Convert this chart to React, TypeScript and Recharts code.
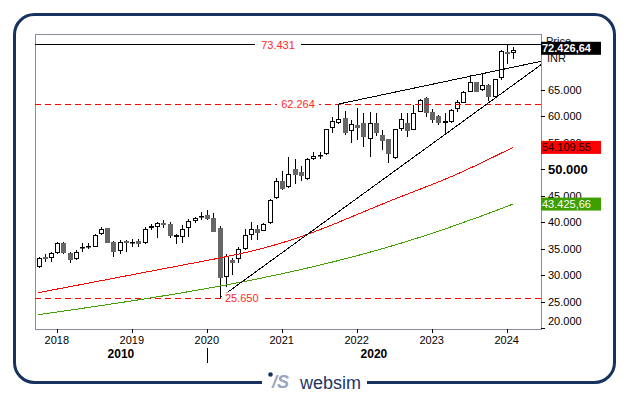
import React from "react";
import {
  ComposedChart,
  Bar,
  Line,
  XAxis,
  YAxis,
  ReferenceLine,
  ReferenceDot,
  ReferenceArea,
} from "recharts";

const FONT = "'Liberation Sans', Arial, Helvetica, sans-serif";

// Monthly candles, Oct 2017 .. Feb 2024
const months = [
  "2017-10", "2017-11", "2017-12",
  "2018-01", "2018-02", "2018-03", "2018-04", "2018-05", "2018-06", "2018-07", "2018-08", "2018-09", "2018-10", "2018-11", "2018-12",
  "2019-01", "2019-02", "2019-03", "2019-04", "2019-05", "2019-06", "2019-07", "2019-08", "2019-09", "2019-10", "2019-11", "2019-12",
  "2020-01", "2020-02", "2020-03", "2020-04", "2020-05", "2020-06", "2020-07", "2020-08", "2020-09", "2020-10", "2020-11", "2020-12",
  "2021-01", "2021-02", "2021-03", "2021-04", "2021-05", "2021-06", "2021-07", "2021-08", "2021-09", "2021-10", "2021-11", "2021-12",
  "2022-01", "2022-02", "2022-03", "2022-04", "2022-05", "2022-06", "2022-07", "2022-08", "2022-09", "2022-10", "2022-11", "2022-12",
  "2023-01", "2023-02", "2023-03", "2023-04", "2023-05", "2023-06", "2023-07", "2023-08", "2023-09", "2023-10", "2023-11", "2023-12",
  "2024-01", "2024-02",
];

const opens = [
  31500, 33380, 33190, 34140, 36020, 34250, 33000, 35250, 35400, 35380, 37720, 38910, 36320, 34630, 36510,
  36100, 36510, 36020, 38950, 39150, 39790, 39660, 37300, 37150, 38850, 40170, 41000, 41360, 40740, 38970,
  29610, 32870, 33000, 35000, 37530, 38720, 38400, 39790, 44510, 47770, 46580, 49980, 49500, 48150, 52000,
  52600, 52870, 57710, 58770, 59710, 57260, 58330, 58770, 55640, 58770, 56450, 55640, 52050, 57520, 58770,
  57400, 60840, 63370, 60840, 60030, 58800, 58960, 61300, 62540, 64610, 66390, 64940, 65880, 63670, 67140,
  72160, 71860,
];
const highs = [
  33400, 33950, 34330, 36320, 36200, 34440, 34750, 36020, 36000, 37780, 39150, 39000, 36400, 36600, 36700,
  36780, 36800, 39100, 39610, 40100, 40420, 40100, 37780, 39470, 40610, 41040, 41980, 42300, 41680, 39200,
  34000, 33190, 35380, 38660, 40100, 39470, 39790, 44300, 48280, 49700, 52360, 51870, 50600, 52100, 53260,
  53300, 57600, 59790, 62264, 60970, 59290, 61480, 60520, 60730, 60660, 57300, 55700, 57600, 60520, 60520,
  62100, 63180, 63560, 61400, 60200, 60650, 61300, 63050, 64700, 67760, 66500, 68200, 66000, 67000, 72480,
  73431, 73100,
];
const lows = [
  31300, 32550, 32550, 34100, 34000, 32250, 32900, 34440, 35000, 35300, 37600, 36000, 33380, 34000, 34440,
  35380, 35380, 35900, 38530, 36970, 39000, 36970, 35890, 36020, 37260, 39900, 40420, 40500, 38100, 25650,
  27840, 30040, 32250, 34800, 36650, 36650, 38300, 39700, 44400, 46100, 46400, 47210, 47800, 47900, 51700,
  51900, 52700, 56880, 58450, 56450, 54880, 55500, 54240, 52240, 56260, 53620, 51110, 51900, 57200, 56070,
  57300, 60700, 59900, 58650, 58330, 56640, 58800, 60840, 62400, 64500, 64500, 64800, 62920, 63500, 66900,
  69840, 70700,
];
const closes = [
  33200, 33120, 34140, 36020, 34140, 32870, 34440, 35400, 35500, 37590, 38660, 36140, 34440, 36320, 36020,
  36300, 35890, 38660, 39200, 39910, 39420, 37400, 37500, 38660, 40170, 40740, 41200, 40610, 38210, 29420,
  33630, 32360, 34890, 37590, 38660, 38020, 39610, 44190, 47770, 46210, 49040, 48900, 48700, 51920, 52500,
  52700, 57520, 59090, 59410, 56880, 58470, 57830, 56020, 58660, 56880, 55370, 52870, 57520, 59410, 57260,
  60650, 63050, 60650, 59280, 58660, 59000, 61160, 62620, 64610, 66390, 64610, 65880, 63670, 66950, 72290,
  71670, 72426.64,
];

// moving averages (red, green)
const maRed = [
  26700, 26930, 27150, 27380, 27600, 27830, 28050, 28280, 28500, 28730, 28960, 29180, 29410, 29630, 29860,
  30080, 30310, 30530, 30760, 30980, 31210, 31430, 31660, 31880, 32110, 32330, 32560, 32780, 33010, 33230,
  33480, 33720, 33970, 34230, 34505, 34795, 35100, 35420, 35755, 36105, 36470, 36855, 37255, 37670, 38100,
  38545, 39005, 39475, 39955, 40440, 40930, 41420, 41910, 42400, 42890, 43375, 43855, 44330, 44790, 45250,
  45710, 46170, 46630, 47090, 47560, 48040, 48530, 49040, 49570, 50115, 50670, 51230, 51795, 52365, 52940,
  53520, 54109.55,
];
const maGreen = [
  22550, 22720, 22890, 23060, 23231, 23402, 23574, 23746, 23920, 24094, 24269, 24445, 24622, 24801, 24981,
  25162, 25346, 25531, 25718, 25907, 26098, 26291, 26487, 26685, 26886, 27089, 27295, 27504, 27716, 27931,
  28150, 28371, 28596, 28825, 29057, 29293, 29533, 29777, 30025, 30277, 30534, 30795, 31061, 31331, 31606,
  31886, 32171, 32461, 32756, 33056, 33362, 33674, 33991, 34314, 34643, 34978, 35319, 35666, 36020, 36380,
  36746, 37119, 37499, 37886, 38280, 38680, 39089, 39504, 39927, 40350, 40750, 41180, 41620, 42060, 42510,
  42960, 43425.66,
];

const xDomain = [-0.5, 80.5];
const yDomain = [19860, 75500];
const xTicks = [3, 15, 27, 39, 51, 63, 75];
const xTickLabels = ["2018", "2019", "2020", "2021", "2022", "2023", "2024"];
const decadeTicks = [13.25, 27, 53.75];
const decadeLabels = ["2010", "|", "2020"];
const yTicks = [20000, 25000, 30000, 35000, 40000, 45000, 50000, 55000, 60000, 65000];

const levels = [
  { value: 73431, text: "73.431", at: 38.4, w: 46, color: "#000000", dash: undefined as string | undefined },
  { value: 62264, text: "62.264", at: 41.6, w: 42, color: "#ff0000", dash: "6 4" },
  { value: 25650, text: "25.650", at: 32.6, w: 40, color: "#ff0000", dash: "6 4" },
];

const trendLines = [
  { x1: 29, y1: 25650, x2: 80.5, y2: 69700 },
  { x1: 48, y1: 62264, x2: 80.5, y2: 70350 },
];

const valueBoxes = [
  { value: 43425.66, text: "43.425,66", bg: "#3f9f00", fg: "#ffffff", bold: false, shift: 0 },
  { value: 54109.55, text: "54.109,55", bg: "#ff0000", fg: "#1a0000", bold: false, shift: 0 },
  { value: 72426.64, text: "72.426,64", bg: "#000000", fg: "#ffffff", bold: true, shift: -2 },
];

const data = months.map((m, i) => ({
  i,
  m,
  o: opens[i],
  h: highs[i],
  l: lows[i],
  c: closes[i],
  range: [lows[i], highs[i]],
  ma1: maRed[i],
  ma2: maGreen[i],
}));

const fmtThousand = (v: number) => `${Math.round(v / 1000)}.000`;

const Candle = (props: any) => {
  const { x, y, width, height, payload } = props;
  if (x == null || y == null || !payload) return null;
  const { o, h, l, c } = payload;
  const top = Math.min(y, y + height);
  const hh = Math.abs(height);
  const ratio = h - l > 0 ? hh / (h - l) : 0;
  const yOf = (v: number) => top + (h - v) * ratio;
  const cx = Math.round(x + width / 2);
  const up = c >= o;
  const bTop = Math.round(yOf(Math.max(o, c)));
  let bBot = Math.round(yOf(Math.min(o, c)));
  if (bBot - bTop < 1) bBot = bTop + 1;
  return (
    <g>
      <line x1={cx + 0.5} x2={cx + 0.5} y1={Math.round(top)} y2={Math.round(top + hh)} stroke="#000" strokeWidth={1} />
      {up ? (
        <rect x={cx - 1.5} y={bTop + 0.5} width={4} height={Math.max(bBot - bTop - 1, 0.5)} fill="#fff" stroke="#000" strokeWidth={1} />
      ) : (
        <rect x={cx - 2} y={bTop} width={5} height={bBot - bTop} fill="#666666" />
      )}
    </g>
  );
};

const XTick = (props: any) => {
  const { x, y, payload } = props;
  const idx = xTicks.indexOf(payload.value);
  return (
    <g>
      <line x1={Math.round(x) + 0.5} x2={Math.round(x) + 0.5} y1={y} y2={y + 4} stroke="#000" />
      <text x={x} y={y + 15} textAnchor="middle" fontSize={11} fill="#000" fontFamily={FONT}>
        {idx >= 0 ? xTickLabels[idx] : ""}
      </text>
    </g>
  );
};

const DecadeTick = (props: any) => {
  const { x, y, payload } = props;
  const idx = decadeTicks.indexOf(payload.value);
  const label = decadeLabels[idx];
  if (label === "|") {
    return <line x1={Math.round(x) + 0.5} x2={Math.round(x) + 0.5} y1={y + 2} y2={y + 17} stroke="#000" />;
  }
  return (
    <text x={x} y={y + 11.5} textAnchor="middle" fontSize={12} fontWeight="bold" fill="#000" fontFamily={FONT}>
      {label}
    </text>
  );
};

const YTick = (props: any) => {
  const { x, y, payload } = props;
  const v = payload.value;
  const box = valueBoxes.find((b) => b.value === v);
  if (box) {
    const cy = y + box.shift;
    return (
      <g>
        {box.bold && (
          <>
            <text x={x + 5} y={y - 5} fontSize={11} fill="#111" fontFamily={FONT}>Price</text>
            <text x={x + 6} y={y + 11.5} fontSize={11} fill="#111" fontFamily={FONT}>INR</text>
          </>
        )}
        <rect x={x} y={cy - 6.5} width={60} height={13} fill={box.bg} />
        <text x={x + 1} y={cy} dy={4} fontSize={11} fontWeight={box.bold ? "bold" : "normal"} fill={box.fg} fontFamily={FONT}>
          {box.text}
        </text>
      </g>
    );
  }
  const bold = v === 50000;
  const ty = v === yTicks[0] ? y - 7 : y;
  return (
    <g>
      <line x1={x} x2={x + 4} y1={Math.round(y) + 0.5} y2={Math.round(y) + 0.5} stroke="#000" />
      <text x={x + 7} y={ty} dy={bold ? 4.5 : 4} fontSize={bold ? 13 : 11} fontWeight={bold ? "bold" : "normal"} fill="#000" fontFamily={FONT}>
        {fmtThousand(v)}
      </text>
    </g>
  );
};

const LevelTag = (props: any) => {
  const { cx, cy, text, w } = props;
  return (
    <g>
      <rect x={cx - w / 2} y={cy - 6} width={w} height={12} fill="#fff" />
      <text x={cx} y={cy} dy={4} textAnchor="middle" fontSize={11} fill="#ff2a2a" fontFamily={FONT}>
        {text}
      </text>
    </g>
  );
};

export default function App() {
  return (
    <div style={{ position: "absolute", left: 0, top: 0, width: 629, height: 395, background: "#fff" }}>
      <ComposedChart
        width={629}
        height={395}
        data={data}
        margin={{ top: 34, right: 28, bottom: 29, left: 35 }}
      >
        <XAxis
          dataKey="i"
          type="number"
          domain={xDomain}
          allowDataOverflow
          ticks={xTicks}
          interval={0}
          height={17}
          axisLine={false}
          tickLine={false}
          tickSize={0}
          tickMargin={0}
          tick={<XTick />}
        />
        <XAxis
          xAxisId="dec"
          dataKey="i"
          type="number"
          domain={xDomain}
          allowDataOverflow
          ticks={decadeTicks}
          interval={0}
          height={20}
          axisLine={false}
          tickLine={false}
          tickSize={0}
          tickMargin={0}
          tick={<DecadeTick />}
        />
        <YAxis
          orientation="right"
          type="number"
          domain={yDomain}
          allowDataOverflow
          ticks={[...yTicks, ...valueBoxes.map((b) => b.value)]}
          interval={0}
          width={60}
          axisLine={false}
          tickLine={false}
          tickSize={0}
          tickMargin={0}
          tick={<YTick />}
        />
        <ReferenceArea
          x1={xDomain[0]}
          x2={xDomain[1]}
          y1={yDomain[0]}
          y2={yDomain[1]}
          fill="none"
          stroke="#8c8c9c"
          strokeWidth={1}
          shapeRendering="crispEdges"
          ifOverflow="visible"
        />
        {levels.map((lv) => (
          <ReferenceLine
            key={lv.text}
            y={lv.value}
            stroke={lv.color}
            strokeDasharray={lv.dash}
            strokeWidth={1}
            shapeRendering="crispEdges"
          />
        ))}
        <Line dataKey="ma2" stroke="#44a000" strokeWidth={1} dot={false} shapeRendering="crispEdges" isAnimationActive={false} />
        <Line dataKey="ma1" stroke="#ff0000" strokeWidth={1} dot={false} shapeRendering="crispEdges" isAnimationActive={false} />
        <Bar dataKey="range" barSize={5} shape={(p: any) => <Candle {...p} />} isAnimationActive={false} />
        {trendLines.map((t, k) => (
          <ReferenceLine
            key={`t${k}`}
            segment={[{ x: t.x1, y: t.y1 }, { x: t.x2, y: t.y2 }]}
            stroke="#000"
            strokeWidth={1}
            shapeRendering="crispEdges"
            ifOverflow="visible"
          />
        ))}
        {levels.map((lv) => (
          <ReferenceDot
            key={`d${lv.text}`}
            x={lv.at}
            y={lv.value}
            r={1}
            ifOverflow="visible"
            shape={(p: any) => <LevelTag {...p} text={lv.text} w={lv.w} />}
          />
        ))}
      </ComposedChart>
      <svg
        width={629}
        height={395}
        style={{ position: "absolute", left: 0, top: 0, pointerEvents: "none" }}
      >
        <rect x={14.5} y={14.5} width={600} height={368} rx={20} ry={20} fill="none" stroke="#17325f" strokeWidth={3} />
        <rect x={262} y={376} width={105} height={14} fill="#fff" />
        <circle cx={270.5} cy={374.5} r={2.3} fill="#17325f" />
        <text x={272} y={388} fontSize={18} fontStyle="italic" fontWeight="bold" fill="#9aa6bd" fontFamily={FONT}>
          /S
        </text>
        <text x={300} y={388.5} fontSize={18} fill="#1b3565" fontFamily={FONT}>
          websim
        </text>
      </svg>
    </div>
  );
}
